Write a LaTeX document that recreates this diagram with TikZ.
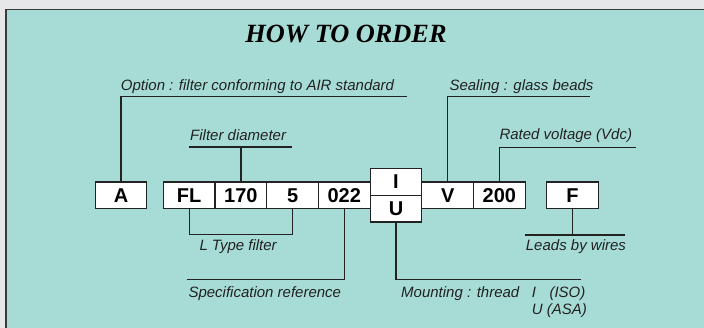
\documentclass[tikz,border=0pt]{standalone}
\usepackage{fontspec}
\setmainfont{Liberation Sans}
\newfontfamily\titlefont{Liberation Serif}
\usetikzlibrary{positioning}
\definecolor{panelteal}{HTML}{A7DCD6}
\definecolor{pagegray}{HTML}{E6E7E9}
\definecolor{inkgray}{HTML}{222222}
\definecolor{framegray}{HTML}{3A3A3A}

\begin{document}
\begin{tikzpicture}[
    x=1pt, y=-1pt,
    codebox/.style={draw=inkgray, line width=1.2pt, fill=white, minimum width=51.7pt, minimum height=26.7pt, inner sep=0pt, outer sep=0pt, font=\fontsize{20}{20}\selectfont\bfseries},
    lbl/.style={anchor=base west, inner sep=0pt, text=inkgray, font=\fontsize{15}{17.7}\selectfont\itshape},
    lead/.style={draw=inkgray, line width=1.2pt},
    heavylead/.style={draw=inkgray, line width=2pt},
]

% === Panel ===
\clip (0,0) rectangle (704,328);
\fill[pagegray] (0,0) rectangle (704,328);
\draw[fill=panelteal, draw=framegray, line width=1.5pt] (6,9.3) rectangle (715,340);

\node[font=\titlefont\bfseries\itshape\fontsize{26.3}{26.3}\selectfont, anchor=base, inner sep=0pt] (title) at (346,43) {HOW TO ORDER};

% === Code boxes ===
\node[codebox] (boxA) at (121,195.35) {A};
\node[codebox] (boxFL) at (189.2,195.35) {FL};
\node[codebox, right=0pt of boxFL] (box170) {170};
\node[codebox, right=0pt of box170] (box5) {5};
\node[codebox, right=0pt of box5] (box022) {022};
\node[codebox, anchor=south west] (boxI) at (box022.east) {I};
\node[codebox, below=0pt of boxI] (boxU) {U};
\node[codebox, anchor=west] (boxV) at (boxI.east |- box022.east) {V};
\node[codebox, right=0pt of boxV] (box200) {200};
\node[codebox] (boxF) at (572.5,195.35) {F};

% === Labels above ===
\node[lbl] (optlbl) at (120.7,90.7) {Option : filter conforming to AIR standard};
\coordinate (optend) at (407,96.7);
\draw[lead] (boxA.north) |- (optend);

\node[lbl] (dialbl) at (190,141) {Filter diameter};
\coordinate (diaL) at (189,147.3);
\coordinate (diaR) at (291.7,147.3);
\draw[heavylead] (diaL) -- (diaR);
\draw[lead] (box170.north) -- (box170.north |- diaL);

\node[lbl] (seallbl) at (449.3,90.7) {Sealing : glass beads};
\coordinate (sealend) at (590,96.7);
\draw[lead] (boxV.north) |- (sealend);

\node[lbl] (voltlbl) at (499.3,140) {Rated voltage (Vdc)};
\coordinate (voltend) at (636,147.3);
\draw[lead] (box200.north) |- (voltend);

% === Labels below ===
\draw[lead] (boxFL.south) -- ++(0,26) -| (box5.south);
\node[lbl] (ltypelbl) at (199.3,251) {L Type filter};

\coordinate (specend) at (187.3,279.3);
\draw[lead] (box022.south) |- (specend);
\node[lbl] (speclbl) at (188.3,297.3) {Specification reference};

\coordinate (mountend) at (580.7,279.3);
\draw[lead] (boxU.south) |- (mountend);
\node[lbl] (mountlbl) at (401,297.3) {Mounting : thread};
\node[lbl] (isolbl) at (531.7,297.3) {I\hspace{13.5pt}(ISO)};
\node[lbl] (asalbl) at (531.7,315) {U (ASA)};

\coordinate (wireL) at (525,234.7);
\coordinate (wireR) at (625,234.7);
\draw[heavylead] (wireL) -- (wireR);
\draw[lead] (boxF.south) -- (boxF.south |- wireL);
\node[lbl] (wirelbl) at (525.7,251) {Leads by wires};

\end{tikzpicture}
\end{document}
